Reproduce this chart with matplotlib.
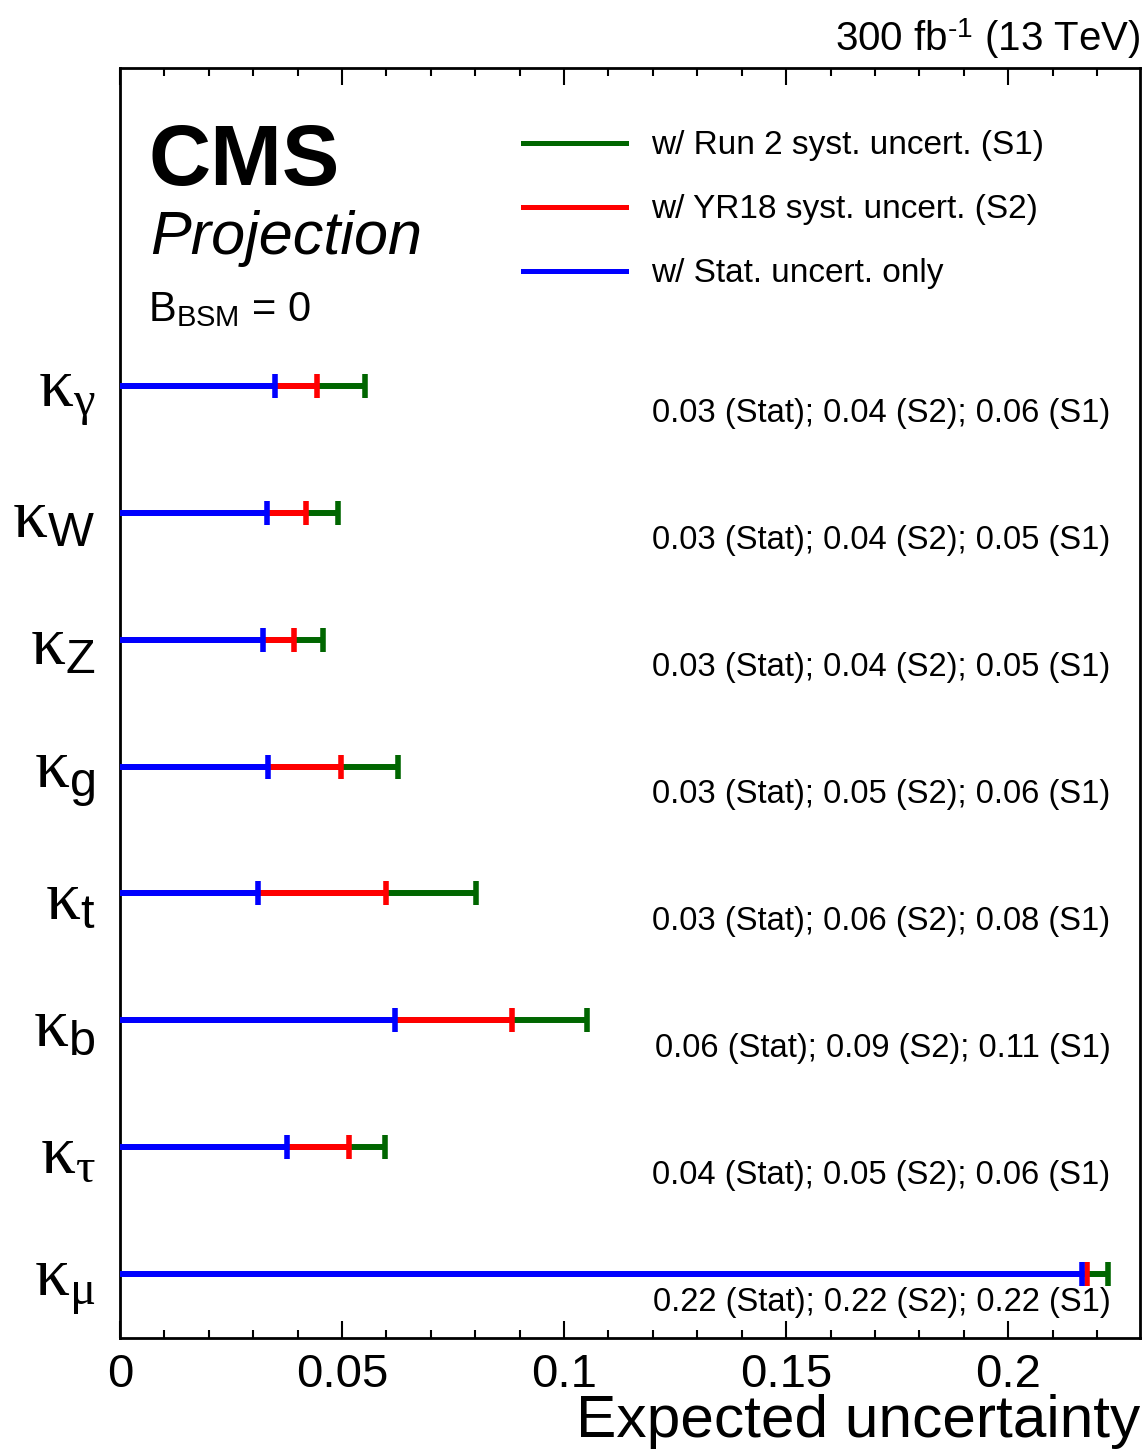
import matplotlib
matplotlib.use("Agg")
import matplotlib.pyplot as plt
from matplotlib.lines import Line2D
from matplotlib.ticker import MultipleLocator

plt.rcParams['font.family'] = ['Liberation Sans', 'DejaVu Sans']
plt.rcParams['mathtext.fontset'] = 'custom'
plt.rcParams['mathtext.rm'] = 'Liberation Sans'
plt.rcParams['mathtext.it'] = 'Liberation Serif'
plt.rcParams['mathtext.bf'] = 'Liberation Sans:bold'

# couplings, top to bottom
labels = [r'$\kappa_{\gamma}$', r'$\kappa_{\mathrm{W}}$', r'$\kappa_{\mathrm{Z}}$', r'$\kappa_{\mathrm{g}}$',
          r'$\kappa_{\mathrm{t}}$', r'$\kappa_{\mathrm{b}}$', r'$\kappa_{\tau}$', r'$\kappa_{\mu}$']
stat = [0.0349, 0.0331, 0.0322, 0.0333, 0.0311, 0.0619, 0.0376, 0.2167]
s2 = [0.0444, 0.0419, 0.0392, 0.0498, 0.0599, 0.0883, 0.0516, 0.2178]
s1 = [0.0552, 0.0491, 0.0457, 0.0626, 0.0802, 0.1052, 0.0597, 0.2225]
texts = ["0.03 (Stat); 0.04 (S2); 0.06 (S1)",
         "0.03 (Stat); 0.04 (S2); 0.05 (S1)",
         "0.03 (Stat); 0.04 (S2); 0.05 (S1)",
         "0.03 (Stat); 0.05 (S2); 0.06 (S1)",
         "0.03 (Stat); 0.06 (S2); 0.08 (S1)",
         "0.06 (Stat); 0.09 (S2); 0.11 (S1)",
         "0.04 (Stat); 0.05 (S2); 0.06 (S1)",
         "0.22 (Stat); 0.22 (S2); 0.22 (S1)"]

green = '#006600'
red = '#ff0000'
blue = '#0000ff'

fig = plt.figure(figsize=(11.43, 14.51), dpi=100)
ax = fig.add_axes([0.105, 0.0779, 0.8924, 0.8752])

n = len(labels)
ypos = [n - 0.5 - i for i in range(n)]

for y, b, r, g, t in zip(ypos, stat, s2, s1, texts):
    ax.plot([0, g], [y, y], color=green, lw=4.3, solid_capstyle='butt', zorder=2)
    ax.plot([0, r], [y, y], color=red, lw=4.3, solid_capstyle='butt', zorder=3)
    ax.plot([0, b], [y, y], color=blue, lw=4.3, solid_capstyle='butt', zorder=4)
    ax.plot([g], [y], marker='|', ms=17, mew=4, color=green, zorder=2)
    ax.plot([r], [y], marker='|', ms=17, mew=4, color=red, zorder=3)
    ax.plot([b], [y], marker='|', ms=17, mew=4, color=blue, zorder=4)
    ax.text(0.2230, y - 0.22, t, ha='right', va='center', fontsize=23.6)

ax.set_xlim(0, 0.2297)
ax.set_ylim(0, 10)
ax.set_yticks(ypos)
ax.set_yticklabels(labels, fontsize=50)
ax.tick_params(axis='y', length=0, pad=18)
ax.xaxis.set_major_locator(MultipleLocator(0.05))
ax.xaxis.set_minor_locator(MultipleLocator(0.01))
ax.set_xticks([0, 0.05, 0.1, 0.15, 0.2])
ax.set_xticklabels(['0', '0.05', '0.1', '0.15', '0.2'], fontsize=34)
ax.tick_params(axis='x', which='major', direction='in', length=12, width=1.5, top=True, pad=11)
ax.tick_params(axis='x', which='minor', direction='in', length=6, width=1.5, top=True)
for sp in ax.spines.values():
    sp.set_linewidth(2)

fig.text(0.9974, 0.0095, 'Expected uncertainty', ha='right', va='baseline', fontsize=43.5)
fig.text(0.9974, 0.9650, r'300 fb$^{\text{-1}}$ (13 TeV)', ha='right', va='baseline', fontsize=29)

ax.text(0.0275, 0.957, 'CMS', transform=ax.transAxes, ha='left', va='top',
        fontsize=62, fontweight='bold')
ax.text(0.030, 0.888, 'Projection', transform=ax.transAxes, ha='left', va='top',
        fontsize=44, fontstyle='italic')
ax.text(0.0275, 0.825, r'B$_{\mathrm{BSM}}$ = 0', transform=ax.transAxes, ha='left', va='top',
        fontsize=30)

handles = [Line2D([], [], color=green, lw=3.6),
           Line2D([], [], color=red, lw=3.6),
           Line2D([], [], color=blue, lw=3.6)]
leg_labels = ['w/ Run 2 syst. uncert. (S1)', 'w/ YR18 syst. uncert. (S2)', 'w/ Stat. uncert. only']
ax.legend(handles, leg_labels, loc='upper left', bbox_to_anchor=(0.395, 0.951),
          frameon=False, fontsize=24, handlelength=3.1, handletextpad=0.75,
          labelspacing=0.99, borderpad=0, borderaxespad=0)

fig.savefig('out.png', dpi=100)
